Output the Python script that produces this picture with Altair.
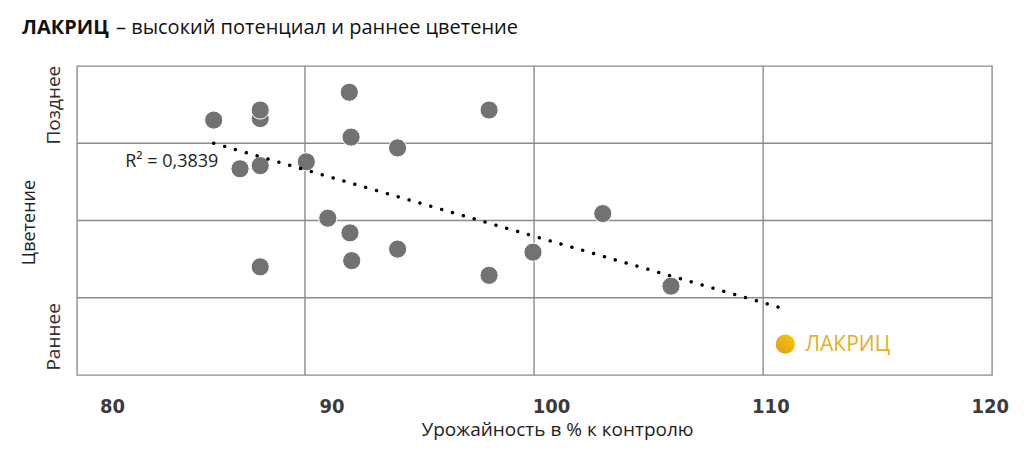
import altair as alt
import pandas as pd

# ---- data ----
yield_pct = [84.63, 86.75, 86.75, 85.83, 86.75, 88.85, 86.75, 89.83, 90.81, 97.18,
             90.89, 93.01, 90.84, 90.92, 93.01, 97.18, 99.18, 102.36, 105.47]
flowering = [3.30, 3.32, 3.43, 2.67, 2.71, 2.76, 1.40, 2.03, 3.66, 3.43,
             3.08, 2.94, 1.84, 1.48, 1.63, 1.29, 1.59, 2.09, 1.15]

lakrits_name = ["ЛАКРИЦ"]
lakrits_yield = [110.68]
lakrits_flowering = [0.40]

trend_x = [84.63, 110.47]
trend_y = [3.00, 0.87]

r2_label = ["R² = 0,3839"]
r2_x = [84.84]
r2_y = [2.69]

x_ticks = [80, 90, 100, 110, 120]
x_grid = [88.79, 99.23, 109.67]
y_grid = [1, 2, 3]
y_label_pos = [0.5, 3.5]

title_bold = ["ЛАКРИЦ"]
title_rest = ["– высокий потенциал и раннее цветение"]

X_DOMAIN = [78.4, 120.1]
Y_DOMAIN = [0, 4]

FONT = "Open Sans"
GRID = "#8c8c8c"

pts = pd.DataFrame({"x": yield_pct, "y": flowering})
lak = pd.DataFrame({"x": lakrits_yield, "y": lakrits_flowering, "name": lakrits_name})
trend = pd.DataFrame({"x": trend_x, "y": trend_y})
r2 = pd.DataFrame({"x": r2_x, "y": r2_y, "t": r2_label})
gx = pd.DataFrame({"x": x_grid})
gy = pd.DataFrame({"y": y_grid})

xs = alt.Scale(domain=X_DOMAIN, nice=False, zero=False)
ys = alt.Scale(domain=Y_DOMAIN, nice=False, zero=False)

x_axis = alt.Axis(
    values=x_ticks, grid=False, ticks=False, tickSize=0, domain=False,
    labelFont="Liberation Sans Narrow, DejaVu Sans Condensed, Roboto",
    labelFontWeight="bold", labelFontSize=20, labelColor="#3b3b3b",
    labelBaseline="alphabetic", labelPadding=37,
    title="Урожайность в % к контролю", titleFont=FONT, titleFontSize=19,
    titleFontWeight="normal", titleColor="#1e1e1e",
    titleX=480, titleY=60, titleBaseline="alphabetic", titleAlign="center",
)
y_axis = alt.Axis(
    values=y_label_pos, grid=False, ticks=False, tickSize=0, domain=False,
    labelExpr="datum.value > 2 ? 'Позднее' : 'Раннее'",
    labelAngle=270, labelAlign="center", labelBaseline="bottom",
    labelPadding=14, labelFont=FONT, labelFontSize=19, labelColor="#2e2e2e",
    title="Цветение", titleFont=FONT, titleFontSize=18, titleFontWeight="normal",
    titleColor="#1e1e1e", titleAngle=270, titleX=-48, titleY=156,
    titleBaseline="middle", titleAlign="center",
)

X = alt.X("x:Q", scale=xs, axis=x_axis)
Y = alt.Y("y:Q", scale=ys, axis=y_axis)

grid_v = alt.Chart(gx).mark_rule(color=GRID, strokeWidth=1.4).encode(x=X)
grid_h = alt.Chart(gy).mark_rule(color=GRID, strokeWidth=1.4).encode(y=Y)

points = alt.Chart(pts).mark_circle(
    size=330, color="#727272", opacity=1, stroke="white", strokeWidth=1
).encode(x=X, y=Y)

trend_line = alt.Chart(trend).mark_line(
    color="black", strokeWidth=3.4, strokeDash=[0.1, 11.2], strokeCap="round"
).encode(x=X, y=Y)

gold = alt.LinearGradient(
    gradient="linear",
    stops=[alt.GradientStop(color="#E09C10", offset=0),
           alt.GradientStop(color="#F5C90F", offset=1)],
    x1=0, y1=1, x2=1, y2=0,
)
lak_pt = alt.Chart(lak).mark_circle(size=370, color=gold, opacity=1).encode(x=X, y=Y)
lak_txt = alt.Chart(lak).mark_text(
    align="left", baseline="middle", dx=20, dy=1, font=FONT, fontSize=21,
    color="#E3B025"
).encode(x=X, y=Y, text="name:N")

r2_txt = alt.Chart(r2).mark_text(
    align="right", baseline="alphabetic", font=FONT, fontSize=18, color="#1e1e1e"
).encode(x=X, y=Y, text="t:N")

t1 = alt.Chart(pd.DataFrame({"t": title_bold})).mark_text(
    align="left", baseline="alphabetic", font=FONT, fontSize=20, fontWeight="bold",
    color="#111111"
).encode(text="t:N", x=alt.value(-55), y=alt.value(-32))
t2 = alt.Chart(pd.DataFrame({"t": title_rest})).mark_text(
    align="left", baseline="alphabetic", font=FONT, fontSize=20, color="#111111"
).encode(text="t:N", x=alt.value(39), y=alt.value(-32))

chart = alt.layer(
    grid_v, grid_h, points, trend_line, lak_pt, lak_txt, r2_txt, t1, t2
).properties(
    width=915, height=309,
    autosize=alt.AutoSizeParams(type="none"),
    padding={"left": 69, "top": 58, "right": 24, "bottom": 70},
).configure_view(stroke=GRID, strokeWidth=1.4)

chart.save("out.html", embed_options={"renderer": "svg", "actions": False})
